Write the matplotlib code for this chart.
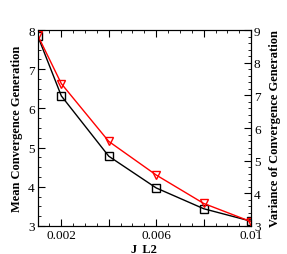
import matplotlib
matplotlib.use("Agg")
import matplotlib.pyplot as plt
from matplotlib.ticker import MultipleLocator

# values
j_l2 = [0.001, 0.002, 0.004, 0.006, 0.008, 0.01]
mean_gen = [7.86, 6.32, 4.78, 3.97, 3.44, 3.12]
var_gen = [8.85, 7.36, 5.59, 4.56, 3.69, 3.13]

x_ticks = [0.002, 0.004, 0.006, 0.008, 0.01]
x_labels = ['0.002', '', '0.006', '', '0.01']

plt.rcParams['font.family'] = ['Liberation Serif', 'DejaVu Serif']

fig = plt.figure(figsize=(2.87, 2.55), dpi=100)
ax = fig.add_axes([0.131, 0.110, 0.744, 0.768])
ax2 = ax.twinx()

ax.plot(j_l2, mean_gen, color='black', lw=1, marker='s', ms=6,
        mfc='none', mec='black', mew=1)
ax2.plot(j_l2, var_gen, color='red', lw=1, marker='v', ms=6,
         mfc='none', mec='red', mew=1)

ax.set_xlim(0.001, 0.01)
ax.set_ylim(3, 8)
ax2.set_ylim(3, 9)

ax.set_xticks(x_ticks)
ax.set_xticklabels(x_labels)
ax.xaxis.set_minor_locator(MultipleLocator(0.0005))
ax.yaxis.set_major_locator(MultipleLocator(1))
ax.yaxis.set_minor_locator(MultipleLocator(0.25))
ax2.yaxis.set_major_locator(MultipleLocator(1))
ax2.yaxis.set_minor_locator(MultipleLocator(0.2))

ax.tick_params(which='both', direction='in', top=True, labelsize=9.5, pad=2)
ax.tick_params(which='major', length=5)
ax.tick_params(which='minor', length=2.5)
ax2.tick_params(which='both', direction='in', labelsize=9.5, pad=2)
ax2.tick_params(which='major', length=5)
ax2.tick_params(which='minor', length=2.5)

ax.set_xlabel('J_L2', fontsize=9, fontweight='bold', labelpad=1)
ax.set_ylabel('Mean Convergence Generation', fontsize=9, fontweight='bold', labelpad=4)
ax2.set_ylabel('Variance of Convergence Generation', fontsize=9, fontweight='bold', labelpad=6)

fig.savefig('out.png', dpi=100)
